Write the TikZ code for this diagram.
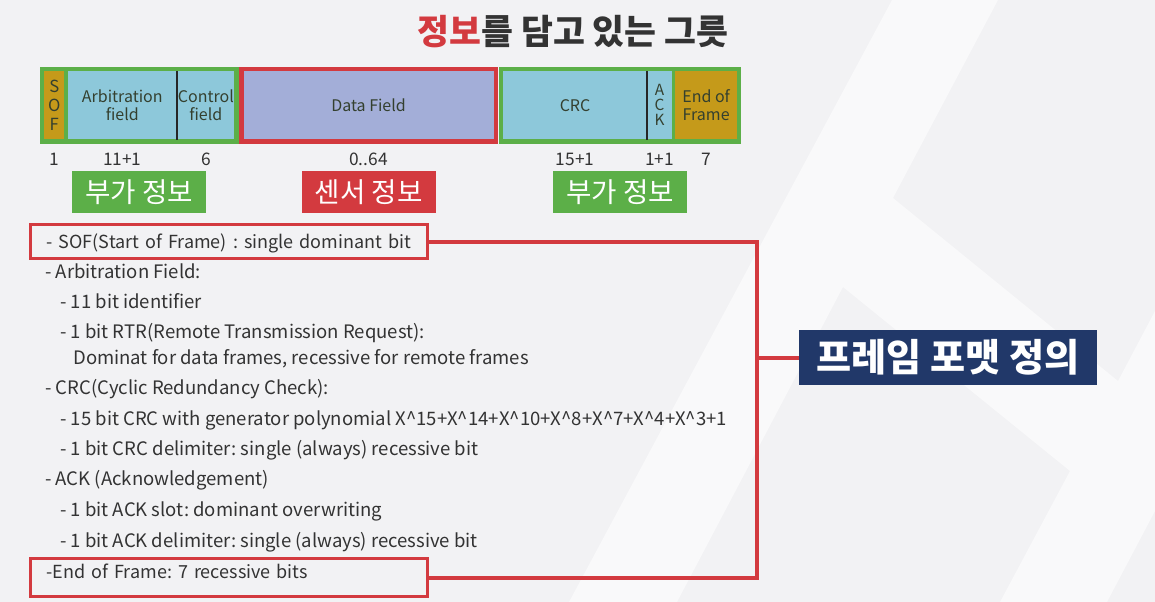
\documentclass[tikz,border=0pt]{standalone}
\usepackage{fontspec}
\setmainfont{Noto Sans CJK KR}
\usetikzlibrary{positioning,fit,backgrounds}

\definecolor{bgGray}{HTML}{F2F2F4}
\definecolor{bgLight}{HTML}{F9F9FA}
\definecolor{canGreen}{HTML}{5CAF48}
\definecolor{canRed}{HTML}{D33A3F}
\definecolor{canBlue}{HTML}{8DC8DA}
\definecolor{canOrange}{HTML}{C59A1A}
\definecolor{canLav}{HTML}{A3AED8}
\definecolor{canNavy}{HTML}{213869}
\definecolor{txtDark}{HTML}{333333}
\definecolor{cellTxt}{HTML}{34402F}

\frenchspacing
\begin{document}
\begin{tikzpicture}[x=0.75pt, y=-0.75pt,
    cell/.style={fill=canBlue, minimum height=51pt, inner sep=0pt, text=cellTxt, align=center, font=\fontsize{12}{13}\selectfont},
    grp/.style={inner sep=3pt},
    num/.style={inner sep=0pt, text=txtDark, font=\fontsize{13}{15}\selectfont},
    tag/.style={text=white, minimum width=100.5pt, minimum height=31.5pt, inner sep=0pt, font=\fontsize{20.7}{23}\selectfont},
    item/.style={anchor=west, inner sep=0pt, text=txtDark, text height=11pt, text depth=2.5pt, font=\fontsize{13.9}{16}\selectfont},
    redbox/.style={draw=canRed, line width=2.25pt, anchor=west, inner xsep=12.4pt, inner ysep=0pt, text width=273pt, align=left, text=txtDark, font=\fontsize{13.5}{16}\selectfont},
    link/.style={draw=canRed, line width=3pt}]
    \useasboundingbox (0,0) rectangle (1155,602);

    % title
    \node[font=\fontsize{26}{30}\selectfont\bfseries, text=txtDark] (title) at (573,32) {{\color{canRed}정보}를 담고 있는 그릇};

    % frame fields
    \node[cell, fill=canOrange, minimum width=15pt, anchor=north west, font=\fontsize{12.5}{14.5}\selectfont] (sof) at (44,71) {S\\O\\F};
    \node[cell, minimum width=81.75pt, right=2.25pt of sof] (arb) {Arbitration\\field};
    \node[cell, minimum width=42.75pt, right=0pt of arb] (ctrl) {Control\\field};
    \node[cell, fill=canLav, minimum width=187.5pt, right=6.5pt of ctrl] (data) {Data Field};
    \node[cell, minimum width=108pt, right=6.75pt of data] (crc) {CRC};
    \node[cell, minimum width=18pt, right=0pt of crc, font=\fontsize{11.5}{11.25}\selectfont] (ack) {A\\C\\K};
    \node[cell, fill=canOrange, minimum width=46.5pt, right=2.25pt of ack] (eof) {End of\\Frame};
    \draw[line width=1.5pt, black!85] (arb.north east) -- (arb.south east);
    \draw[line width=1.5pt, black!85] (crc.north east) -- (crc.south east);

    \begin{scope}[on background layer]
        \fill[bgGray] (0,0) rectangle (1155,602);
        \fill[bgLight] (892,0) -- (998,0) -- (893,198) -- (1118,381) -- (1155,311) -- (1155,511)
            -- (1107,602) -- (1000,602) -- (1070,471) -- (843,287) -- (677,602) -- (569,602) -- cycle;
        \node[grp, fill=canGreen, fit=(sof)(ctrl)] (grpA) {};
        \node[grp, fill=canRed, fit=(data)] (grpD) {};
        \node[grp, fill=canGreen, fit=(crc)(eof)] (grpB) {};
    \end{scope}

    % bit counts
    \node[num, below=10pt of sof] (nSof) {1};
    \node[num, below=10pt of arb] (nArb) {11+1};
    \node[num, below=10pt of ctrl] (nCtrl) {6};
    \node[num, below=10pt of data] (nData) {0..64};
    \node[num, below=10pt of crc] (nCrc) {15+1};
    \node[num, below=10pt of ack] (nAck) {1+1};
    \node[num, below=10pt of eof] (nEof) {7};

    \node[tag, fill=canGreen, below=20.25pt of grpA] (tagA) {부가 정보};
    \node[tag, fill=canRed, below=20.25pt of grpD] (tagD) {센서 정보};
    \node[tag, fill=canGreen, below=20.25pt of grpB] (tagB) {부가 정보};

    % field list
    \node[redbox, text height=18pt, text depth=7.5pt] (sofbox) at (28.5,241.5) {\makebox[273pt][l]{- SOF(Start of Frame) : single dominant bit}};
    \node[item] (i1) at (45,273) {- Arbitration Field:};
    \node[item] (i2) at (60,303) {- 11 bit identifier};
    \node[item] (i3) at (60,333) {- 1 bit RTR(Remote Transmission Request):};
    \node[item] (i4) at (73,359) {Dominat for data frames, recessive for remote frames};
    \node[item] (i5) at (45,389) {- CRC(Cyclic Redundancy Check):};
    \node[item] (i6) at (60,420) {- 15 bit CRC with generator polynomial X\^{}15+X\^{}14+X\^{}10+X\^{}8+X\^{}7+X\^{}4+X\^{}3+1};
    \node[item] (i7) at (60,450) {- 1 bit CRC delimiter: single (always) recessive bit};
    \node[item] (i8) at (45,480) {- ACK (Acknowledgement)};
    \node[item] (i9) at (60,511) {- 1 bit ACK slot: dominant overwriting};
    \node[item] (i10) at (60,542) {- 1 bit ACK delimiter: single (always) recessive bit};
    \node[redbox, text height=15pt, text depth=13.5pt] (endbox) at (28.5,577.5) {\makebox[273pt][l]{-End of Frame: 7 recessive bits}};

    \node[fill=canNavy, text=white, minimum width=223.5pt, minimum height=41.25pt, inner sep=0pt, font=\fontsize{28.6}{32}\selectfont\bfseries] (fmt) at (948,357.5) {프레임 포맷 정의};

    \coordinate (bus) at (757,0);
    \draw[link] (sofbox.east) -| (endbox.east -| bus) -- (endbox.east);
    \draw[link] (fmt.west) -- (fmt.west -| bus);
\end{tikzpicture}
\end{document}
